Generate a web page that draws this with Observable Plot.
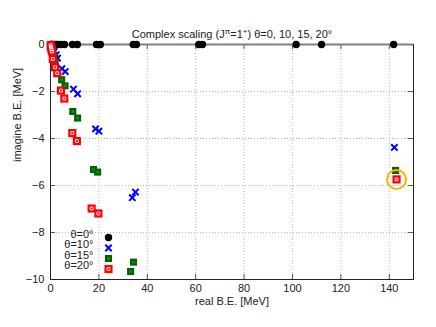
<!DOCTYPE html>
<html><head><meta charset="utf-8">
<script src="https://cdn.jsdelivr.net/npm/d3@7"></script>
<script src="https://cdn.jsdelivr.net/npm/@observablehq/plot@0.6"></script>
<style>body{margin:0;background:#fff} svg{font-family:"Liberation Sans",Arial,sans-serif}</style>
</head><body><div id="chart"></div>
<script>
const titleText = "Complex scaling (J^π=1^+) θ=0, 10, 15, 20°";
const xLabel = "real B.E. [MeV]";
const yLabel = "imagine B.E. [MeV]";
const xTicks = [0, 20, 40, 60, 80, 100, 120, 140];
const yTicks = [0, -2, -4, -6, -8, -10];
const seriesNames = ["θ=0°", "θ=10°", "θ=15°", "θ=20°"];

// theta = 0
const re0 = [0.05, 0.35, 0.75, 1.2, 1.8, 2.4, 3.0, 4.4, 5.8, 9.1, 11.1, 19.0, 20.6, 34.2, 35.5, 61.3, 62.8, 101.5, 112.0, 141.8];
const im0 = [0, 0, 0, 0, 0, 0, 0, 0, 0, 0, 0, 0, 0, 0, 0, 0, 0, 0, 0, 0];
// theta = 10
const re10 = [0.1, 0.3, 0.6, 1.0, 1.5, 2.35, 2.9, 4.7, 6.1, 9.5, 11.2, 18.6, 20.0, 33.8, 35.1, 142.1];
const im10 = [-0.02, -0.06, -0.12, -0.2, -0.3, -0.44, -0.58, -1.03, -1.15, -1.9, -2.1, -3.59, -3.69, -6.52, -6.28, -4.38];
// theta = 15
const re15 = [0.1, 0.4, 0.8, 1.3, 1.9, 4.6, 6.0, 9.2, 11.2, 17.8, 19.5, 34.3, 33.1, 142.6];
const im15 = [-0.03, -0.13, -0.27, -0.45, -0.72, -1.5, -1.76, -2.85, -3.13, -5.32, -5.43, -9.26, -9.66, -5.36];
// theta = 20
const re20 = [0.05, 0.2, 0.4, 0.6, 0.95, 1.9, 2.8, 4.3, 5.7, 9.0, 10.9, 17.0, 19.8, 143.0];
const im20 = [-0.03, -0.1, -0.2, -0.3, -0.62, -0.97, -1.22, -1.96, -2.3, -3.77, -4.11, -6.98, -7.19, -5.74];
// highlighted resonance
const highlightRe = [143.0];
const highlightIm = [-5.74];

const pts = (re, im) => re.map((x, i) => ({x, y: im[i]}));

function styled(data, k, pos) {
  const base = pos || {x: "x", y: "y"};
  if (k === 0) return [Plot.dot(data, {...base, r: 3.7, fill: "#000"})];
  if (k === 1) return [Plot.dot(data, {...base, symbol: "times", r: 3.0, stroke: "#0000ff", strokeWidth: 2})];
  if (k === 2) return [Plot.dot(data, {...base, symbol: "square", r: 4, fill: "#006400"}),
                       Plot.dot(data, {...base, symbol: "square", r: 1.4, fill: "#2e7d2e"})];
  return [Plot.dot(data, {...base, symbol: "square", r: 4.6, fill: "#ff0000"}),
          Plot.dot(data, {...base, symbol: "square", r: 1.6, fill: "none", stroke: "#fff", strokeWidth: 0.9})];
}

const legendDy = [-42, -31.5, -21, -10.5];
const legendMarks = seriesNames.flatMap((name, k) => [
  Plot.text([name], {frameAnchor: "bottom-left", dx: 43, dy: legendDy[k], textAnchor: "end", fontSize: 11, fill: "#222"}),
  ...styled([name], k, {frameAnchor: "bottom-left", dx: 58, dy: legendDy[k]})
]);

const chart = Plot.plot({
  width: 436, height: 327,
  marginLeft: 50, marginRight: 23, marginTop: 44, marginBottom: 48,
  x: {domain: [0, 150]},
  y: {domain: [-10, 0]},
  style: {fontFamily: "Liberation Sans, Arial, sans-serif", fontSize: "11px", color: "#222"},
  marks: [
    Plot.gridX(xTicks.slice(1), {stroke: "#bbb", strokeOpacity: 1, strokeDasharray: "1,2"}),
    Plot.gridY(yTicks.slice(1, -1), {stroke: "#bbb", strokeOpacity: 1, strokeDasharray: "1,2"}),
    Plot.ruleX(xTicks, {insetTop: 230, stroke: "#555"}),
    Plot.ruleX(xTicks, {insetBottom: 230, stroke: "#555"}),
    Plot.ruleY(yTicks, {insetRight: 358, stroke: "#555"}),
    Plot.ruleY(yTicks, {insetLeft: 358, stroke: "#555"}),
    Plot.frame({stroke: "#222"}),
    Plot.ruleY([0], {stroke: "#808080", strokeWidth: 2}),
    Plot.axisX({ticks: xTicks, tickSize: 0, tickPadding: 5, label: null, fontSize: 11}),
    Plot.axisY({ticks: yTicks, tickSize: 0, tickPadding: 6, label: null, fontSize: 11}),
    ...styled(pts(re0, im0), 0),
    ...styled(pts(re10, im10), 1),
    ...styled(pts(re15, im15), 2),
    ...styled(pts(re20, im20), 3),
    Plot.dot(pts(highlightRe, highlightIm), {x: "x", y: "y", r: 9.5, stroke: "#ffb000", strokeWidth: 2, fill: "none"}),
    ...legendMarks,
    Plot.text([titleText], {frameAnchor: "top", dy: -14, fontSize: 11, fill: "#222"}),
    Plot.text([xLabel], {frameAnchor: "bottom", dy: 25, fontSize: 11, fill: "#222"}),
    Plot.text([yLabel], {frameAnchor: "left", dx: -33, rotate: -90, fontSize: 11, fill: "#222"})
  ]
});
document.getElementById("chart").appendChild(chart);
// superscripts in title
d3.select(chart).selectAll("text").filter(function(){ return this.textContent === titleText; })
  .each(function(){
    const t = d3.select(this);
    t.text(null);
    t.append("tspan").text("Complex scaling (J");
    t.append("tspan").attr("dy", -4).attr("font-size", 8).text("π");
    t.append("tspan").attr("dy", 4).text("=1");
    t.append("tspan").attr("dy", -4).attr("font-size", 8).text("+");
    t.append("tspan").attr("dy", 4).text(") θ=0, 10, 15, 20°");
  });
</script></body></html>
